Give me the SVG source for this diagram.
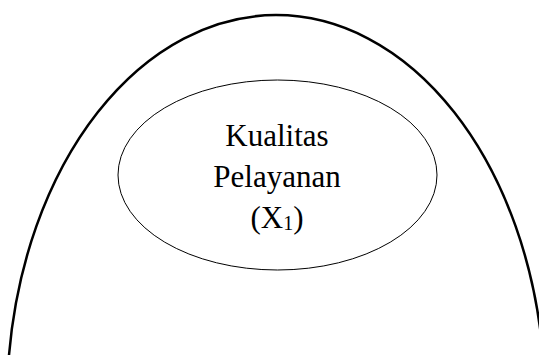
<svg xmlns="http://www.w3.org/2000/svg" width="539" height="355" viewBox="0 0 539 355">
<style>
.outer{fill:none;stroke:#000;stroke-width:2.5}
.inner{fill:#fff;stroke:#000;stroke-width:1}
.t{font-family:"Liberation Serif","Times New Roman",serif;font-size:31px;fill:#000;text-anchor:middle}
.sub{font-size:20px}
</style>
<rect width="539" height="355" fill="#fff"/>
<g id="outer-arch">
<path class="outer" d="M 9 355 A 269 387 0 0 1 543 355"/>
</g>
<g id="node-x1">
<ellipse class="inner" cx="277.5" cy="175" rx="159.5" ry="95"/>
<text class="t" x="277" y="146">Kualitas</text>
<text class="t" x="277" y="187">Pelayanan</text>
<text class="t" x="277" y="228">(X<tspan class="sub" dy="2">1</tspan><tspan dy="-2">)</tspan></text>
</g>
<g id="connectors"/>
</svg>
